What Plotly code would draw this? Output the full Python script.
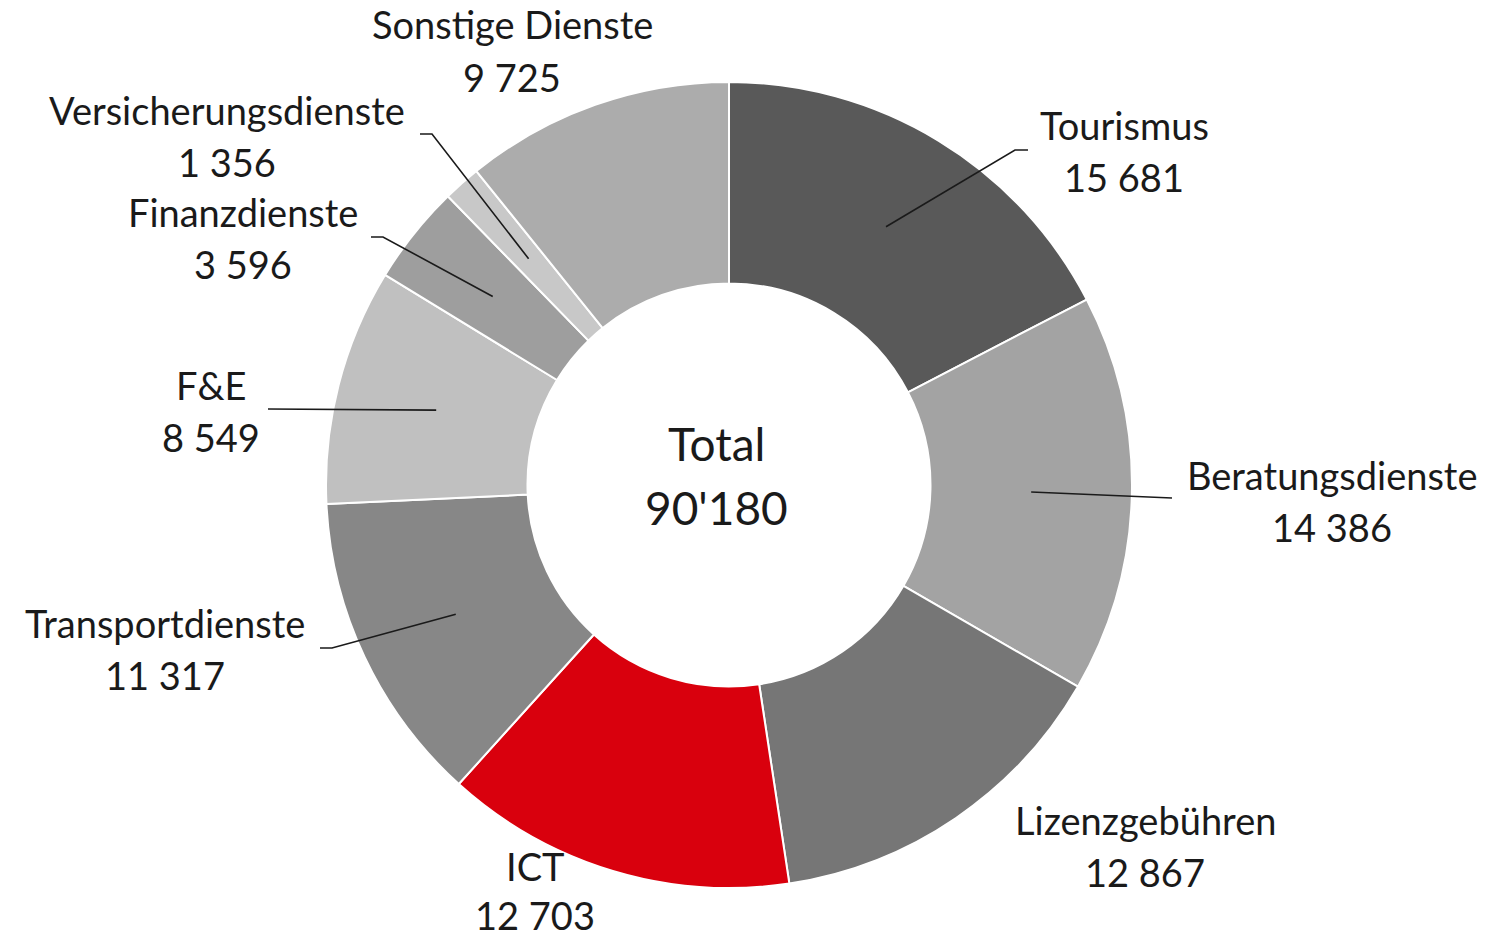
import math
import plotly.graph_objects as go

# ---- data ----
categories = ["Tourismus", "Beratungsdienste", "Lizenzgebühren", "ICT",
              "Transportdienste", "F&E", "Finanzdienste",
              "Versicherungsdienste", "Sonstige Dienste"]
values = [15681, 14386, 12867, 12703, 11317, 8549, 3596, 1356, 9725]
colors = ["#595959", "#a3a3a3", "#767676", "#d9000d", "#878787",
          "#c0c0c0", "#9e9e9e", "#c8c8c8", "#acacac"]
center_title = "Total"

# ---- layout constants (pixels) ----
W, H = 1488, 937
CX, CY, R = 729, 485, 403
HOLE = 0.5
FONT = "Lato"
FS = 38
TXT = "#1a1a1a"

# label positions: (x, y_name, y_value)
label_pos = {
    "Tourismus": (1124, 125, 177),
    "Beratungsdienste": (1332, 475, 527),
    "Lizenzgebühren": (1145, 820, 872),
    "ICT": (535, 866, 915),
    "Transportdienste": (165, 623, 675),
    "F&E": (211, 385, 437),
    "Finanzdienste": (243, 212, 264),
    "Versicherungsdienste": (227, 110, 162),
    "Sonstige Dienste": (512, 24, 77),
}
# leader line tail points (elbow..., end) in pixels
leader_tail = {
    "Tourismus": [(1015, 150), (1028, 150)],
    "Beratungsdienste": [(1172, 498)],
    "Transportdienste": [(332, 648), (320, 648)],
    "F&E": [(268, 409)],
    "Finanzdienste": [(383, 237), (371, 237)],
    "Versicherungsdienste": [(432, 134), (420, 134)],
}


def px(x):
    return x / W


def py(y):
    return 1 - y / H


fmt = lambda v: f"{v:,}".replace(",", " ")

fig = go.Figure(go.Pie(
    labels=categories, values=values, hole=HOLE, sort=False,
    direction="clockwise", rotation=0,
    marker=dict(colors=colors, line=dict(color="white", width=2)),
    textinfo="none", hoverinfo="label+value",
    domain=dict(x=[px(CX - R), px(CX + R)], y=[py(CY + R), py(CY - R)]),
    showlegend=False,
))

annotations = []
shapes = []
total = sum(values)
cum = 0
rmid = R * (1 + HOLE) / 2
for cat, v in zip(categories, values):
    mid = (cum + v / 2) / total * 2 * math.pi
    cum += v
    x, y1, y2 = label_pos[cat]
    for txt, yy in ((cat, y1), (fmt(v), y2)):
        annotations.append(dict(x=px(x), y=py(yy), xref="paper", yref="paper",
                                text=txt, showarrow=False, xanchor="center",
                                yanchor="middle",
                                font=dict(family=FONT, size=FS, color=TXT)))
    if cat in leader_tail:
        sx = CX + rmid * math.sin(mid)
        sy = CY - rmid * math.cos(mid)
        pts = [(sx, sy)] + leader_tail[cat]
        path = "M " + " L ".join(f"{px(a):.5f},{py(b):.5f}" for a, b in pts)
        shapes.append(dict(type="path", path=path, xref="paper", yref="paper",
                           line=dict(color=TXT, width=1.6)))

annotations.append(dict(x=px(716), y=py(443), xref="paper", yref="paper",
                        text=center_title, showarrow=False,
                        font=dict(family=FONT, size=46, color=TXT)))
annotations.append(dict(x=px(716), y=py(507), xref="paper", yref="paper",
                        text=f"{total:,}".replace(",", "'"), showarrow=False,
                        font=dict(family=FONT, size=46, color=TXT)))

fig.update_layout(
    width=W, height=H, margin=dict(l=0, r=0, t=0, b=0),
    paper_bgcolor="white", plot_bgcolor="white",
    annotations=annotations, shapes=shapes,
)
fig.write_html("out.html", config={"displayModeBar": False},
               post_script="document.body.style.margin='0';"
                           "document.body.style.overflow='hidden';")
